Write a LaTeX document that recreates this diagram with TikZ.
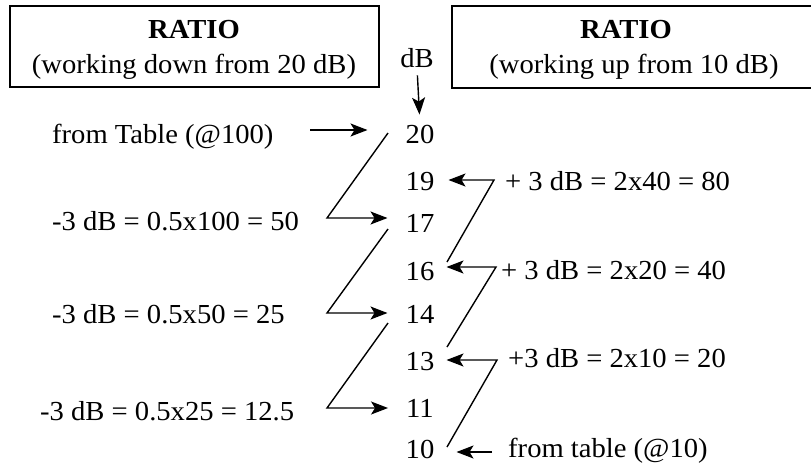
\documentclass[tikz,border=0pt]{standalone}
\usepackage{fontspec}
\setmainfont[FakeStretch=1.04]{Liberation Serif}
\usetikzlibrary{arrows.meta}
\tikzset{
  txt/.style={inner sep=0pt, font=\fontsize{27.5pt}{32pt}\selectfont},
  ttl/.style={inner sep=0pt, font=\fontsize{27.5pt}{32pt}\selectfont\bfseries},
  num/.style={txt, anchor=base},
  conn/.style={line width=1.4pt, line join=miter},
  tip/.style={-{Stealth[length=17pt,width=13pt,inset=4pt]}},
}
\begin{document}
\begin{tikzpicture}[x=1pt,y=-1pt]
\useasboundingbox (0,0) rectangle (811,464);
% boxes
\node[draw, line width=1.3pt, minimum width=369pt, minimum height=81pt, inner sep=0pt] (lbox) at (194.5,46.5) {};
\draw[line width=1.3pt] (811,6) -- (452,6) -- (452,88) -- (811,88);
\node[ttl, anchor=base] (lt1) at (194,38) {RATIO};
\node[txt, anchor=base] (lt2) at (194,73) {(working down from 20 dB)};
\node[ttl, anchor=base] (rt1) at (626,38) {RATIO};
\node[txt, anchor=base] (rt2) at (634,73) {(working up from 10 dB)};
\node[txt, anchor=base] (db) at (417,67) {dB};
% numbers
\node[num] (n20) at (420,143) {20};
\node[num] (n19) at (420,190) {19};
\node[num] (n17) at (420,232) {17};
\node[num] (n16) at (420,280) {16};
\node[num] (n14) at (420,323) {14};
\node[num] (n13) at (420,370) {13};
\node[num] (n11) at (420,417) {11};
\node[num] (n10) at (420,458) {10};
% left labels
\node[txt, anchor=base west] (ltab) at (52,143) {from Table (@100)};
\node[txt, anchor=base west] (l50) at (52,230) {-3 dB = 0.5x100 = 50};
\node[txt, anchor=base west] (l25) at (52,323) {-3 dB = 0.5x50 = 25};
\node[txt, anchor=base west] (l12) at (40,420) {-3 dB = 0.5x25 = 12.5};
% right labels
\node[txt, anchor=base west] (r80) at (505,190) {+ 3 dB = 2x40 = 80};
\node[txt, anchor=base west] (r40) at (501,279) {+ 3 dB = 2x20 = 40};
\node[txt, anchor=base west] (r20) at (508,367) {+3 dB = 2x10 = 20};
\node[txt, anchor=base west] (rtab) at (508,457) {from table (@10)};
% dB arrow
\draw[conn, tip, shorten <=8pt, shorten >=10pt] (db.south) -- (n20.north);
% from Table arrow
\coordinate (ta) at (310,130);
\draw[conn, tip, shorten >=38pt] (ta) -- (ta -| n20.west);
% left zigzags
\coordinate (a1) at (388,133); \coordinate (c1) at (327,218);
\coordinate (a2) at (388,229); \coordinate (c2) at (327,313);
\coordinate (a3) at (388,323); \coordinate (c3) at (327,408);
\draw[conn, tip, shorten >=18pt] (a1) -- (c1) -- (c1 -| n17.west);
\draw[conn, tip, shorten >=18pt] (a2) -- (c2) -- (c2 -| n14.west);
\draw[conn, tip, shorten >=18pt] (a3) -- (c3) -- (c3 -| n11.west);
% right zigzags
\coordinate (b1) at (447,262); \coordinate (d1) at (494,180);
\coordinate (b2) at (447,347); \coordinate (d2) at (496,267);
\coordinate (b3) at (447,447); \coordinate (d3) at (497,360);
\draw[conn, tip, shorten >=14pt] (b1) -- (d1) -- (d1 -| n19.east);
\draw[conn, tip, shorten >=12pt] (b2) -- (d2) -- (d2 -| n16.east);
\draw[conn, tip, shorten >=12pt] (b3) -- (d3) -- (d3 -| n13.east);
% from table (@10) arrow
\coordinate (tb) at (492,452);
\draw[conn, tip, shorten >=22pt] (tb) -- (tb -| n10.east);
\end{tikzpicture}
\end{document}
